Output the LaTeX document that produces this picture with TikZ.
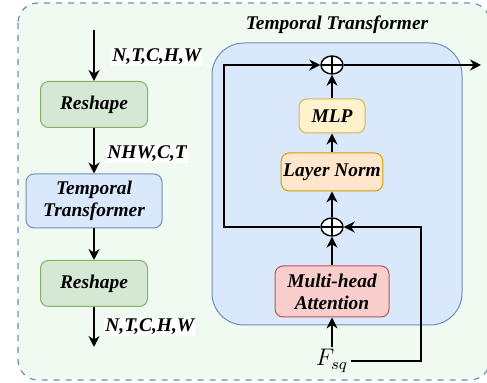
\documentclass[tikz,border=0pt]{standalone}
\usepackage{fontspec}
\setmainfont{Liberation Serif}
\usetikzlibrary{arrows.meta,shapes.geometric}
\definecolor{bgreen}{RGB}{241,250,241}
\definecolor{bline}{RGB}{108,142,191}
\definecolor{gfill}{RGB}{213,232,212}
\definecolor{gline}{RGB}{130,179,102}
\definecolor{bfill}{RGB}{218,232,252}
\definecolor{yfill}{RGB}{255,242,204}
\definecolor{yline}{RGB}{214,182,86}
\definecolor{ofill}{RGB}{255,230,204}
\definecolor{oline}{RGB}{215,155,0}
\definecolor{rfill}{RGB}{248,206,204}
\definecolor{rline}{RGB}{184,84,80}
\begin{document}
\begin{tikzpicture}[x=0.5pt,y=-0.5pt,
	font=\fontsize{9.7}{11}\selectfont\bfseries\itshape,
	blk/.style={draw,rounded corners=4pt,line width=0.5pt,align=center,inner sep=1pt},
	green/.style={blk,fill=gfill,draw=gline,minimum width=53.5pt,minimum height=23pt},
	plus/.style={ellipse,draw,fill=white,line width=0.7pt,minimum width=11pt,minimum height=9pt,inner sep=0pt,
		path picture={\draw[line width=0.7pt] (path picture bounding box.north) -- (path picture bounding box.south)
			(path picture bounding box.west) -- (path picture bounding box.east);}},
	arr/.style={line width=0.8pt,-{Stealth[length=5.5pt,width=5.5pt]}},
	dim/.style={anchor=west,fill=white,inner sep=0.5pt}]
	\useasboundingbox (0,0) rectangle (487,383);
	\draw[bline,dashed,fill=bgreen,rounded corners=10pt,line width=0.6pt] (18,3) rectangle (490,380);

	\coordinate (top) at (94,30);
	\coordinate (bot) at (94,347);
	\node[green] (resh1) at (94,104.5) {Reshape};
	\node[blk,fill=bfill,draw=bline,minimum width=68pt,minimum height=27pt] (tt) at (94,201) {Temporal\\Transformer};
	\node[green] (resh2) at (94,283.5) {Reshape};
		\draw[arr] (top) -- (resh1);
		\draw[arr] (resh1) -- (tt);
		\draw[arr] (tt) -- (resh2);
		\draw[arr] (resh2) -- (bot);
	\node[dim] at (111,57) {N,T,C,H,W};
	\node[dim] at (106,154) {NHW,C,T};
	\node[dim] at (104,327) {N,T,C,H,W};

	\node (title) at (337,25) {Temporal Transformer};
	\draw[bline,fill=bfill,rounded corners=16pt,line width=0.5pt] (212,43) rectangle (462,325);
	\node[plus] (plust) at (332,65) {};
	\node[blk,fill=yfill,draw=yline,minimum width=33pt,minimum height=17pt] (mlp) at (332,116) {MLP};
	\node[blk,fill=ofill,draw=oline,minimum width=50pt,minimum height=19pt] (ln) at (332,172) {Layer Norm};
	\node[plus] (plusb) at (332,227) {};
	\node[blk,fill=rfill,draw=rline,minimum width=57pt,minimum height=25.5pt] (mha) at (332,291.5) {Multi-head\\Attention};
	\node[font=\fontsize{11.5}{13}\selectfont,inner sep=1pt] (fsq) at (332,361) {$F_{sq}$};
	\coordinate (skipx) at (224,0);
	\coordinate (resx) at (421,0);
	\coordinate (out) at (481,65);
		\draw[arr] (fsq) -- (mha);
		\draw[arr] (mha) -- (plusb);
		\draw[arr] (plusb) -- (ln);
		\draw[arr] (ln) -- (mlp);
		\draw[arr] (mlp) -- (plust);
		\draw[arr] (plusb.west) -- (plusb.west -| skipx) |- (plust.west);
		\draw[arr] (plust.east) -- (out);
		\draw[arr] (fsq.east) -- (fsq.east -| resx) |- (plusb.east);
\end{tikzpicture}
\end{document}
